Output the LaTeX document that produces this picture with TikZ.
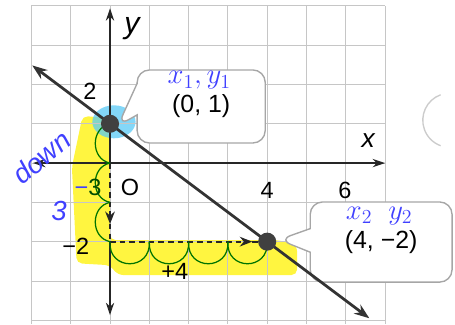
\documentclass[tikz,border=0pt]{standalone}
\usepackage{fontspec}
\setmainfont{Liberation Sans}
\usetikzlibrary{positioning,arrows.meta,calc,shapes.callouts}
\tikzset{
  gridline/.style={draw=gray!45,line width=0.6pt},
  axisline/.style={draw=black!85,line width=1.2pt},
  mainline/.style={draw=black!80,line width=2pt,{Stealth[length=11pt,width=8pt]}-{Stealth[length=11pt,width=8pt]}},
  moveline/.style={draw=black!85,line width=1.4pt,dash pattern=on 4pt off 3pt},
  tlabel/.style={font=\fontsize{17}{20}\selectfont,inner sep=1pt},
  ptdot/.style={circle,fill=black!75,minimum size=4.6mm,inner sep=0pt},
  coordbox/.style={rectangle callout,draw=gray!70,line width=1pt,fill=white,rounded corners=9pt,font=\fontsize{18}{20}\selectfont},
  handnote/.style={text=blue!75!white,font=\fontsize{20}{22}\selectfont,inner sep=1pt},
  hop/.style={draw=green!45!black,line width=0.9pt},
  hilite/.style={fill=yellow,opacity=0.75},
}

\begin{document}
\begin{tikzpicture}[>=Stealth]
\useasboundingbox (-2.8,-4.1) rectangle (8.78,4.15);

% highlighter marks
\fill[hilite,rounded corners=4pt] (-0.7,1.2) -- (-0.1,1.15) -- (0,0.5) -- (0,-1.96)
  -- (4.3,-1.96) -- (4.76,-2.1) -- (4.76,-2.85) -- (0.2,-2.85) -- (0,-2.6)
  -- (-0.85,-2.55) -- (-0.97,-0.1) -- cycle;
\fill[cyan!65,opacity=0.75] (0.1,1.05) ellipse (0.55 and 0.42);

% grid
\draw[gridline] (-2,-4.1) grid (7,4);
\draw[gray!40,line width=1pt] (8.65,1.09) ++(110:0.69) arc (110:250:0.69);

% ends of axes, line and moves
\coordinate (xmin) at (-1.96,0);
\coordinate (xmax) at (7,0);
\coordinate (ymin) at (0,-3.87);
\coordinate (ymax) at (0,3.94);
\coordinate (origin) at (0,0);
\coordinate (q) at (0,-2);
\coordinate (downtip) at (0,-1.55);
\coordinate (righttip) at (3.62,-2);
\coordinate (lstart) at (-1.98,2.485);
\coordinate (lend) at (6.6,-3.95);

% callouts
\node[coordbox,minimum width=3.26cm,minimum height=1.86cm,callout pointer width=0.8cm,
  callout absolute pointer={(0.2,0.95)}] (box1) at (2.32,1.44) {(0, 1)};
\node[coordbox,minimum width=3.61cm,minimum height=2.04cm,callout pointer width=0.6cm,
  callout absolute pointer={(4.3,-1.95)}] (box2) at (6.9,-2.01) {(4, −2)};

% axes
\draw[axisline,-{Stealth[length=9pt,width=6pt]}] (origin) -- (xmax);
\draw[axisline,-{Stealth[length=9pt,width=6pt]}] (origin) -- (xmin);
\draw[axisline,-{Stealth[length=9pt,width=6pt]}] (origin) -- (ymax);
\draw[axisline,-{Stealth[length=9pt,width=6pt]}] (q) -- (ymin);

% down 3, right 4
\draw[moveline,-{Stealth[length=9pt,width=7pt]}] (origin) -- (downtip);
\draw[moveline] (downtip) -- (q);
\draw[moveline,-{Stealth[length=9pt,width=7pt]}] (q) -- (righttip);
\draw[moveline] (righttip) -- (4,-2);

\foreach \i in {0,1,2,3}
  \draw[hop] (\i,-2) .. controls (\i-0.05,-2.75) and (\i+1.05,-2.75) .. (\i+1,-2);
\foreach \j in {1,0,-1}
  \draw[hop] (0,\j) .. controls (-0.5,\j-0.1) and (-0.5,\j-0.9) .. (0,\j-1);

% the line
\draw[mainline] (lstart) -- (lend);
\node[ptdot] (p1) at (0,1) {};
\node[ptdot] (p2) at (4,-2) {};

% printed labels
\node[tlabel,font=\itshape\fontsize{22}{24}\selectfont] (ylab) at (0.56,3.41) {y};
\node[tlabel,font=\itshape\fontsize{19}{22}\selectfont] (xlab) at (6.57,0.56) {x};
\node[tlabel] (two) at (-0.51,1.82) {2};
\node[tlabel] (mtwo) at (-0.87,-2.11) {−2};
\node[tlabel] (orig) at (0.51,-0.61) {O};
\node[tlabel] (four) at (4,-0.69) {4};
\node[tlabel] (six) at (5.98,-0.69) {6};
\node[tlabel] (plusfour) at (1.65,-2.77) {+4};

% handwritten notes
\node[handnote] (n1) at (2.27,2.1) {$x_1, y_1$};
\node[handnote] (n2) at (6.85,-1.35) {$x_2\;\; y_2$};
\node[handnote,font=\itshape\fontsize{20}{22}\selectfont,rotate=40] (down) at (-1.75,0.15) {down};
\node[handnote,font=\itshape\fontsize{20}{22}\selectfont] (three) at (-1.3,-1.22) {3};
\node[tlabel,text=black!70!green] (mthree) at (-0.56,-0.62) {\textcolor{blue!75!white}{−}3};

\end{tikzpicture}
\end{document}
